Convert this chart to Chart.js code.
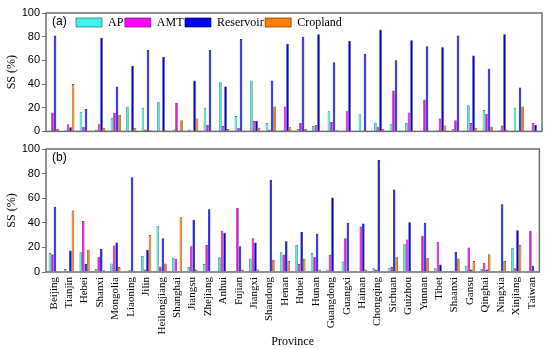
<!DOCTYPE html>
<html>
<head>
<meta charset="utf-8">
<script src="https://cdn.jsdelivr.net/npm/chart.js@4.4.1/dist/chart.umd.min.js"></script>
<style>
  html, body { margin: 0; padding: 0; background: #fff; }
  #wrap { position: relative; width: 550px; height: 349px; }
  #chartA { position: absolute; left: 0; top: 0; }
  #chartB { position: absolute; left: 0; top: 140px; }
</style>
</head>
<body>
<div id="wrap">
  <canvas id="chartA" width="550" height="140"></canvas>
  <canvas id="chartB" width="550" height="209"></canvas>
</div>
<script>
// categories
const provinces = ['Beijing', 'Tianjin', 'Hebei', 'Shanxi', 'Mongolia', 'Liaoning', 'Jilin', 'Heilongjiang',
  'Shanghai', 'Jiangsu', 'Zhejiang', 'Anhui', 'Fujian', 'Jiangxi', 'Shandong', 'Henan', 'Hubei', 'Hunan',
  'Guangdong', 'Guangxi', 'Hainan', 'Chongqing', 'Sichuan', 'Guizhou', 'Yunnan', 'Tibet', 'Shaanxi',
  'Gansu', 'Qinghai', 'Ningxia', 'Xinjiang', 'Taiwan'];

// panel (a)
const apA   = [0, 1, 16.5, 1.5, 11.5, 21, 20, 25, 1.5, 1.5, 20, 42, 13, 43, 7, 1, 2, 4.5, 17, 0, 15, 7.5, 6, 7, 0, 1, 2, 22, 18, 1, 20, 0];
const amtA  = [16, 6, 4, 6, 15.5, 0, 1.5, 0, 24, 0, 5.5, 4.5, 3, 9, 1.5, 21, 7, 5.5, 8, 17, 0, 4, 34.5, 16, 27, 11, 9.5, 7, 15, 5, 0, 7];
const resA  = [81, 3.5, 19, 79, 38, 55.5, 69, 63, 0, 43, 69, 38, 78, 9, 43, 74, 80, 82, 58.5, 76.5, 65.5, 86, 60, 77, 72, 71, 81, 64, 53, 82, 37, 5.5];
const cropA = [2, 40, 0, 3, 14, 3, 1, 1, 9.5, 11, 0, 2, 0, 3, 21, 3.5, 2, 0, 1, 0, 0, 2, 0, 0, 0, 5, 0, 3, 4, 1, 21, 0];

// panel (b)
const apB   = [15.5, 2.5, 16, 2.5, 7, 0, 13, 37.5, 11.5, 4, 6.5, 12, 1, 11, 0, 16, 22, 15.5, 2, 8.5, 0, 3, 3, 23, 1, 3, 1, 5, 2.5, 0, 19.5, 1];
const amtB  = [14.5, 0, 41.5, 12.5, 21.5, 1.5, 2, 4.5, 10.5, 21, 22, 33.5, 52, 27.5, 0, 14, 6.5, 12.5, 14, 27.5, 37, 2, 4, 26.5, 29.5, 24.5, 1, 20, 7.5, 1, 3, 33.5];
const resB  = [53, 17.5, 6.5, 19, 24, 77, 18, 27.5, 0, 42.5, 51, 32, 21, 24, 75, 25, 32.5, 31, 60.5, 40, 39.5, 91, 67, 40.5, 40, 6, 16.5, 2, 2, 55, 34, 5];
const cropB = [0, 50, 18, 1.5, 4, 1, 30, 7, 44.5, 2, 0, 0, 2, 2, 10, 9, 11, 2, 0, 0, 2, 0, 12.5, 0, 11.5, 0, 11, 9, 14.5, 9, 22, 1];

const yTicks = [0, 20, 40, 60, 80, 100];

const seriesNames = ['AP', 'AMT', 'Reservoir', 'Cropland'];
const seriesColors = ['#3ff2ee', '#ff00ff', '#0000ff', '#ff8000'];
const seriesEdges = ['#2a6f6d', '#6a1a6a', '#101050', '#6a3a10'];

const serif = 'Liberation Serif';
const sans = 'Liberation Sans';

function buildDatasets(values) {
  return values.map((v, i) => ({
    label: seriesNames[i],
    data: v,
    backgroundColor: seriesColors[i],
    borderColor: seriesEdges[i],
    borderWidth: 0.7,
    categoryPercentage: 0.66,
    barPercentage: 1.0
  }));
}

// box round the plot and the panel tag
const framePlugin = {
  id: 'frame',
  afterDraw(chart, args, opts) {
    const a = chart.chartArea, ctx = chart.ctx;
    ctx.save();
    ctx.strokeStyle = '#6e6e6e';
    ctx.lineWidth = 1.5;
    ctx.strokeRect(a.left, a.top, a.right - a.left, a.bottom - a.top);
    ctx.fillStyle = '#000';
    ctx.font = '12px "' + sans + '"';
    ctx.textBaseline = 'middle';
    ctx.textAlign = 'left';
    ctx.fillText(opts.tag, a.left + 6, a.top + 9);
    ctx.restore();
  }
};

// legend inside the plot, laid out in one row, pushed past the panel tag
const legendRow = {
  id: 'legendRow',
  beforeLayout(chart) {
    if (chart.legend) chart.legend.isHorizontal = () => true;
  },
  afterLayout(chart) {
    const lg = chart.legend;
    if (lg && lg.options.display) {
      const w = lg.width;
      lg.left = chart.chartArea.left + 28.5;
      lg.right = lg.left + w;
      lg.top += 2; lg.bottom += 2;
    }
  }
};

function yScale() {
  return {
    min: 0, max: 100,
    afterBuildTicks: s => { s.ticks = yTicks.map(v => ({ value: v })); },
    ticks: { color: '#000', font: { family: sans, size: 11 }, padding: 2 },
    grid: { drawOnChartArea: false, drawTicks: true, tickLength: 4, color: '#6e6e6e', lineWidth: 1 },
    border: { display: false },
    title: { display: true, text: 'SS (%)', color: '#000', font: { family: serif, size: 12 }, padding: { top: 5, bottom: 0 } },
    afterFit: s => { s.width = 46; }
  };
}

new Chart(document.getElementById('chartA'), {
  type: 'bar',
  data: { labels: provinces, datasets: buildDatasets([apA, amtA, resA, cropA]) },
  options: {
    responsive: false,
    animation: false,
    layout: { padding: { top: 13, right: 8, bottom: 3, left: 0 } },
    scales: {
      x: { display: false },
      y: yScale()
    },
    plugins: {
      frame: { tag: '(a)' },
      tooltip: { enabled: false },
      legend: {
        position: 'chartArea',
        align: 'start',
        labels: {
          boxWidth: 26, boxHeight: 9, padding: 1.5, color: '#000',
          font: { family: serif, size: 12 }
        }
      }
    }
  },
  plugins: [framePlugin, legendRow]
});

new Chart(document.getElementById('chartB'), {
  type: 'bar',
  data: { labels: provinces, datasets: buildDatasets([apB, amtB, resB, cropB]) },
  options: {
    responsive: false,
    animation: false,
    layout: { padding: { top: 9, right: 8, bottom: 0, left: 0 } },
    scales: {
      x: {
        ticks: {
          autoSkip: false, minRotation: 90, maxRotation: 90, padding: 5,
          color: '#000', font: { family: serif, size: 11 }
        },
        grid: { display: false, drawTicks: false },
        border: { display: false },
        title: { display: true, text: 'Province', color: '#000', font: { family: serif, size: 12 }, padding: { top: 0, bottom: 0 } },
        afterFit: s => { s.height = 77; }
      },
      y: yScale()
    },
    plugins: {
      frame: { tag: '(b)' },
      tooltip: { enabled: false },
      legend: { display: false }
    }
  },
  plugins: [framePlugin]
});
</script>
</body>
</html>
